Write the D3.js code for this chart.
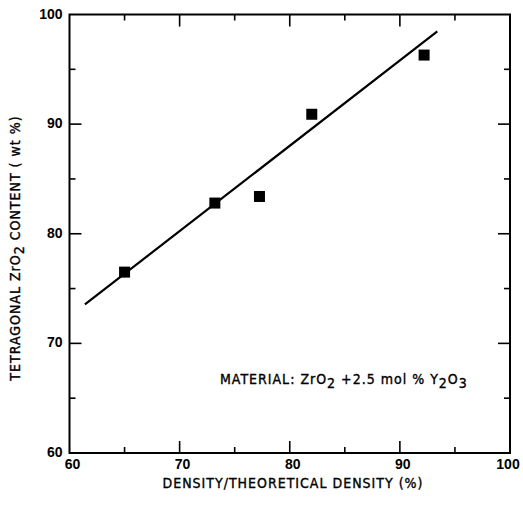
<!DOCTYPE html>
<html>
<head>
<meta charset="utf-8">
<script src="https://cdn.jsdelivr.net/npm/d3@7"></script>
<style>
  body { margin: 0; background: #fff; }
  .tick-label { font-family: "Liberation Sans", Arial, sans-serif; font-weight: bold; font-size: 14px; }
  .title { font-family: "DejaVu Sans", sans-serif; font-stretch: condensed; font-size: 14px;
           letter-spacing: 1px; stroke: #000; stroke-width: 0.35px; }
</style>
</head>
<body>
<div id="chart"></div>
<script>
// measured points
const density = [65.0, 73.2, 77.25, 82.0, 92.2];
const tetragonal = [76.5, 82.8, 83.4, 90.9, 96.3];
// fitted line end points
const fitX = [61.4, 93.4];
const fitY = [73.55, 98.45];
const xTicks = [60, 70, 80, 90, 100];
const yTicks = [60, 70, 80, 90, 100];

const width = 523, height = 508;
const margin = {top: 14.5, right: 13, bottom: 55, left: 69.5};

const x = d3.scaleLinear().domain([60, 100]).range([margin.left, width - margin.right]);
const y = d3.scaleLinear().domain([60, 100]).range([height - margin.bottom, margin.top]);

const svg = d3.select("#chart").append("svg")
    .attr("width", width)
    .attr("height", height);

// frame
svg.append("rect")
    .attr("x", x(60)).attr("y", y(100))
    .attr("width", x(100) - x(60)).attr("height", y(60) - y(100))
    .attr("fill", "none").attr("stroke", "#000").attr("stroke-width", 2);

// inward ticks on all four sides
const minor = d3.range(60, 101, 5);
minor.forEach(function(v) {
    const len = v % 10 === 0 ? 12 : 6;
    if (v === 60 || v === 100) return;
    svg.append("line").attr("x1", x(v)).attr("x2", x(v))
        .attr("y1", y(60)).attr("y2", y(60) - len)
        .attr("stroke", "#000").attr("stroke-width", 1.6);
    svg.append("line").attr("x1", x(v)).attr("x2", x(v))
        .attr("y1", y(100)).attr("y2", y(100) + len)
        .attr("stroke", "#000").attr("stroke-width", 1.6);
    svg.append("line").attr("y1", y(v)).attr("y2", y(v))
        .attr("x1", x(60)).attr("x2", x(60) + len)
        .attr("stroke", "#000").attr("stroke-width", 1.6);
    svg.append("line").attr("y1", y(v)).attr("y2", y(v))
        .attr("x1", x(100)).attr("x2", x(100) - len)
        .attr("stroke", "#000").attr("stroke-width", 1.6);
});

// tick labels
svg.selectAll(".xl").data(xTicks).enter().append("text")
    .attr("class", "tick-label")
    .attr("x", function(d) { return d === 100 ? x(d) - 2 : x(d) + 3; })
    .attr("y", y(60) + 16)
    .attr("text-anchor", "middle")
    .text(function(d) { return d; });

svg.selectAll(".yl").data(yTicks).enter().append("text")
    .attr("class", "tick-label")
    .attr("x", x(60) - 7)
    .attr("y", function(d) { return y(d) + 4; })
    .attr("text-anchor", "end")
    .text(function(d) { return d; });

// axis titles
svg.append("text").attr("class", "title")
    .attr("x", 293).attr("y", 488)
    .attr("text-anchor", "middle")
    .text("DENSITY/THEORETICAL DENSITY (%)");

const yt = svg.append("text").attr("class", "title")
    .attr("transform", "translate(20,248) rotate(-90)")
    .attr("text-anchor", "middle");
yt.append("tspan").text("TETRAGONAL ZrO");
yt.append("tspan").attr("dy", 4).text("2");
yt.append("tspan").attr("dy", -4).text(" CONTENT ( wt %)");

// annotation
const ann = svg.append("text").attr("class", "title")
    .attr("x", 220).attr("y", 384);
ann.append("tspan").text("MATERIAL: ZrO");
ann.append("tspan").attr("dy", 4).text("2");
ann.append("tspan").attr("dy", -4).text(" +2.5 mol % Y");
ann.append("tspan").attr("dy", 4).text("2");
ann.append("tspan").attr("dy", -4).text("O");
ann.append("tspan").attr("dy", 4).text("3");

// fitted line
svg.append("line")
    .attr("x1", x(fitX[0])).attr("y1", y(fitY[0]))
    .attr("x2", x(fitX[1])).attr("y2", y(fitY[1]))
    .attr("stroke", "#000").attr("stroke-width", 2.2);

// markers
const s = 11;
svg.selectAll(".pt").data(density).enter().append("rect")
    .attr("x", function(d) { return x(d) - s / 2; })
    .attr("y", function(d, i) { return y(tetragonal[i]) - s / 2; })
    .attr("width", s).attr("height", s)
    .attr("fill", "#000");
</script>
</body>
</html>
